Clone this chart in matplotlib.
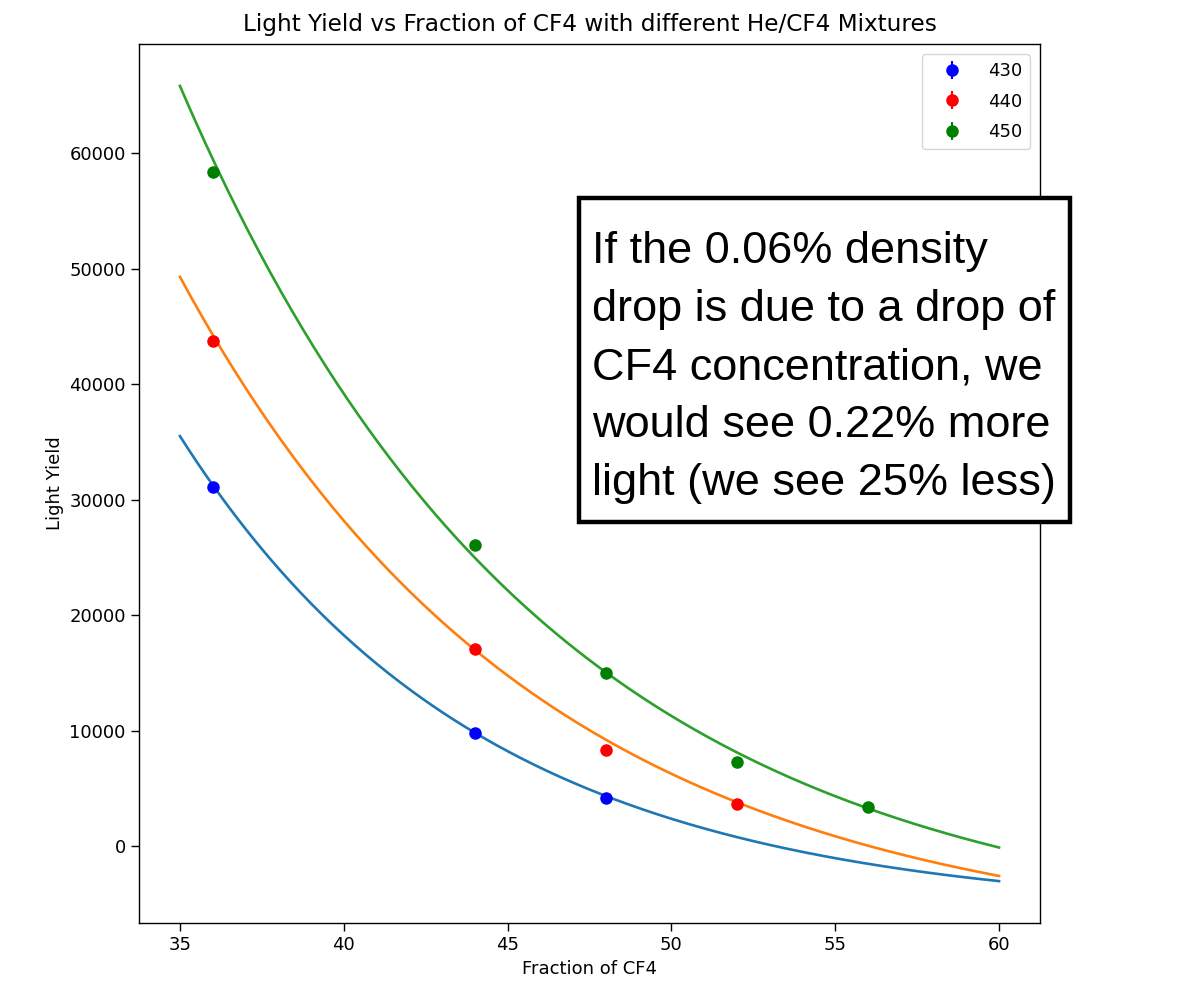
import numpy as np
import matplotlib
matplotlib.use("Agg")
import matplotlib.pyplot as plt
from matplotlib.patches import Rectangle

# measured points (fraction of CF4, light yield) for each mixture
x_430 = [36, 44, 48]
y_430 = [31100, 9760, 4210]
x_440 = [36, 44, 48, 52]
y_440 = [43700, 17100, 8370, 3640]
x_450 = [36, 44, 48, 52, 56]
y_450 = [58400, 26060, 15000, 7330, 3350]
err_430 = [250, 200, 150]
err_440 = [300, 250, 200, 150]
err_450 = [350, 300, 250, 200, 150]

# exponential fit parameters: A*exp(-b*(x-35)) + c
fit_430 = (41300, 0.108, -5800)
fit_440 = (57840, 0.0908, -8550)
fit_450 = (73790, 0.0896, -7970)

labels = ["430", "440", "450"]

note = ("If the 0.06% density\n"
        "drop is due to a drop of\n"
        "CF4 concentration, we\n"
        "would see 0.22% more\n"
        "light (we see 25% less)")

fig = plt.figure(figsize=(12.03, 9.84), dpi=100)
ax = fig.add_axes([139/1203, 1 - 923/984, (1040-139)/1203, (923-44)/984])

xfit = np.linspace(35, 60, 300)
for (A, b, c) in [fit_430, fit_440, fit_450]:
    ax.plot(xfit, A*np.exp(-b*(xfit - 35)) + c, linewidth=1.9)

ax.errorbar(x_430, y_430, yerr=err_430, fmt='o', color='b', markersize=8, label=labels[0])
ax.errorbar(x_440, y_440, yerr=err_440, fmt='o', color='r', markersize=8, label=labels[1])
ax.errorbar(x_450, y_450, yerr=err_450, fmt='o', color='g', markersize=8, label=labels[2])

ax.set_xlim(33.75, 61.25)
ax.set_ylim(-6650, 69450)
ax.set_xticks([35, 40, 45, 50, 55, 60])
ax.set_yticks([0, 10000, 20000, 30000, 40000, 50000, 60000])
ax.tick_params(labelsize=13, length=6, width=1.0)
for s in ax.spines.values():
    s.set_linewidth(1.0)

ax.set_title("Light Yield vs Fraction of CF4 with different He/CF4 Mixtures", fontsize=16.7, pad=9)
ax.set_xlabel("Fraction of CF4", fontsize=13)
ax.set_ylabel("Light Yield", fontsize=13)
ax.legend(loc="upper right", fontsize=13, labelspacing=0.7, borderaxespad=0.55,
          handlelength=2.4, borderpad=0.45)

# annotation box on top of the chart
fig.patches.append(Rectangle((579/1203, 1 - 522/984), (1070-579)/1203, (522-198)/984,
                             transform=fig.transFigure, facecolor='white',
                             edgecolor='black', linewidth=3.2, zorder=5))
fig.text(592/1203, 1 - 495/984, note, family="Liberation Sans", fontsize=32.5,
         va='baseline', ha='left', linespacing=1.53, zorder=6)

plt.savefig("out.png", dpi=100)
